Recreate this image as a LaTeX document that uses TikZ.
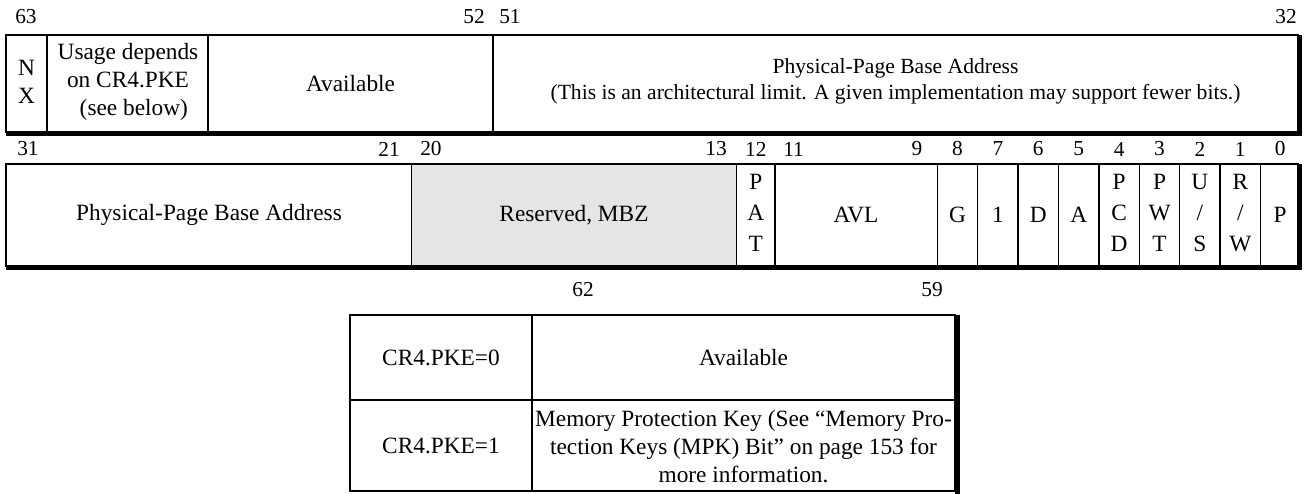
\documentclass[tikz,border=0pt]{standalone}
\usepackage{fontspec}
\setmainfont{Liberation Serif}
\begin{document}
\begin{tikzpicture}[x=0.75pt,y=-0.75pt,
  thinln/.style={line width=1.1pt},
  shadowln/.style={line width=3.4pt},
  lbl/.style={font=\fontsize{16}{18}\selectfont, inner sep=0pt},
  txt/.style={font=\fontsize{17.5}{23.2}\selectfont, align=center, inner sep=0pt},
  txtone/.style={font=\fontsize{17.5}{21}\selectfont, align=center, inner sep=0pt},
  txtsmall/.style={font=\fontsize{16.2}{19}\selectfont, align=center, inner sep=0pt}]
\useasboundingbox (0,0) rectangle (1305,493);

% ---------- row 1 (bits 63..32)
\draw[thinln] (6,35) rectangle (1298,132);
\draw[shadowln] (6,134) -- (1300,134) -- (1300,35);
\foreach \xx in {47,208,493} \draw[thinln] (\xx,35) -- (\xx,132);

\node[lbl, anchor=west] (l63) at (15,17) {63};
\node[lbl, anchor=east] (l52) at (485,17) {52};
\node[lbl, anchor=west] (l51) at (499,17) {51};
\node[lbl, anchor=east] (l32) at (1297,17) {32};

\node[txtone] (nx) at (26.5,82) {N\\X};
\node[txtone] (usage) at (128,82) {Usage depends\\on CR4.PKE\\\hspace*{0.5em}(see below)};
\node[txt] (avail1) at (350.5,84) {Available};
\node[txtsmall] (ppbaA) at (895.5,68) {Physical-Page Base Address};
\node[txtsmall] (ppbaB) at (895.5,94) {(This is an architectural limit. A given implementation may support fewer bits.)};

% ---------- row 2 (bits 31..0)
\fill[black!10] (411.7,164) rectangle (736.7,266);
\draw[thinln] (6,164) rectangle (1298,266);
\draw[shadowln] (6,268) -- (1300,268) -- (1300,164);
\foreach \xx in {411.7,736.7,775,937.3,977.7,1018.1,1058.5,1098.9,1139.3,1179.7,1220.1,1260.5}
  \draw[thinln] (\xx,164) -- (\xx,266);

\node[lbl, anchor=west] (l31) at (17,149) {31};
\node[lbl, anchor=east] (l21) at (400,149) {21};
\node[lbl, anchor=west] (l20) at (420,149) {20};
\node[lbl, anchor=east] (l13) at (727,149) {13};
\node[lbl] (l12) at (755.8,149) {12};
\node[lbl, anchor=west] (l11) at (783,149) {11};
\node[lbl] (l9) at (917,149) {9};
\node[lbl] (l8) at (957.5,149) {8};
\node[lbl] (l7) at (997.9,149) {7};
\node[lbl] (l6) at (1038.3,149) {6};
\node[lbl] (l5) at (1078.7,149) {5};
\node[lbl] (l4) at (1119.1,149) {4};
\node[lbl] (l3) at (1159.5,149) {3};
\node[lbl] (l2) at (1199.9,149) {2};
\node[lbl] (l1) at (1240.3,149) {1};
\node[lbl] (l0) at (1280.2,149) {0};

\node[txt] (ppba2) at (209,215) {Physical-Page Base Address};
\node[txt] (rsv) at (574,215) {Reserved, MBZ};
\node[txt] (pat) at (755.8,213) {P\\A\\T};
\node[txt] (avl) at (856,215) {AVL};
\node[txt] (g) at (957.5,215) {G};
\node[txt] (one) at (997.9,215) {1};
\node[txt] (d) at (1038.3,215) {D};
\node[txt] (a) at (1078.7,215) {A};
\node[txt] (pcd) at (1119.1,213) {P\\C\\D};
\node[txt] (pwt) at (1159.5,213) {P\\W\\T};
\node[txt] (us) at (1199.9,213) {U\\/\\S};
\node[txt] (rw) at (1240.3,213) {R\\/\\W};
\node[txt] (p) at (1280.2,215) {P};

% ---------- lower table
\node[lbl] (l62) at (583,290) {62};
\node[lbl] (l59) at (932,290) {59};

\draw[thinln] (350,315) rectangle (955,491);
\draw[thinln] (350,400) -- (955,400);
\draw[thinln] (532,315) -- (532,491);
\draw[shadowln] (957.5,315) -- (957.5,494);

\node[txt] (pke0) at (441,358) {CR4.PKE=0};
\node[txt] (av2) at (743.5,358) {Available};
\node[txt] (pke1) at (441,446) {CR4.PKE=1};
\node[txtone] (mpk) at (743.5,447) {Memory Protection Key (See “Memory Pro-\\tection Keys (MPK) Bit” on page 153 for\\more information.};
\end{tikzpicture}
\end{document}
